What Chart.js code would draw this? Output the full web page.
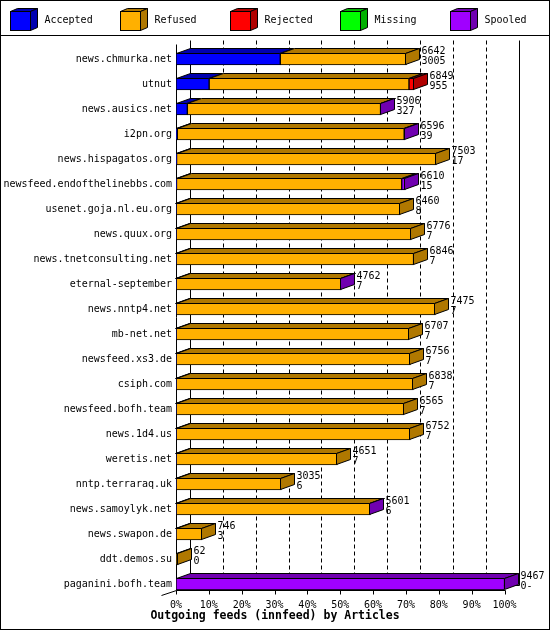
<!DOCTYPE html>
<html>
<head>
<meta charset="utf-8">
<script src="https://cdn.jsdelivr.net/npm/chart.js@4"></script>
<style>
  html, body { margin: 0; padding: 0; background: #fff; }
  canvas { display: block; }
</style>
</head>
<body>
<canvas id="feeds" width="550" height="630"></canvas>
<script>
// innfeed outgoing feeds, articles per peer
const hosts = [
  'news.chmurka.net', 'utnut', 'news.ausics.net', 'i2pn.org', 'news.hispagatos.org',
  'newsfeed.endofthelinebbs.com', 'usenet.goja.nl.eu.org', 'news.quux.org',
  'news.tnetconsulting.net', 'eternal-september', 'news.nntp4.net', 'mb-net.net',
  'newsfeed.xs3.de', 'csiph.com', 'newsfeed.bofh.team', 'news.1d4.us', 'weretis.net',
  'nntp.terraraq.uk', 'news.samoylyk.net', 'news.swapon.de', 'ddt.demos.su',
  'paganini.bofh.team'
];
const offered  = [6642, 6849, 5906, 6596, 7503, 6610, 6460, 6776, 6846, 4762, 7475,
                  6707, 6756, 6838, 6565, 6752, 4651, 3035, 5601, 746, 62, 9467];
const acceptedText = ['3005', '955', '327', '39', '17', '15', '8', '7', '7', '7', '7',
                      '7', '7', '7', '7', '7', '7', '6', '6', '3', '0', '0-'];
const accepted = [3005, 955, 327, 39, 17, 15, 8, 7, 7, 7, 7, 7, 7, 7, 7, 7, 7, 6, 6, 3, 0, 0];
const refused  = [3637, 5759, 5567, 6537, 7486, 6490, 6452, 6769, 6839, 4739, 7468,
                  6700, 6749, 6831, 6558, 6745, 4644, 3029, 5585, 743, 62, 0];
const rejected = [0, 135, 0, 0, 0, 0, 0, 0, 0, 0, 0, 0, 0, 0, 0, 0, 0, 0, 0, 0, 0, 0];
const missing  = [0, 0, 0, 0, 0, 0, 0, 0, 0, 0, 0, 0, 0, 0, 0, 0, 0, 0, 0, 0, 0, 0];
const spooled  = [0, 0, 12, 20, 0, 105, 0, 0, 0, 16, 0, 0, 0, 0, 0, 0, 0, 0, 10, 0, 0, 9467];
const tickPercents = [0, 10, 20, 30, 40, 50, 60, 70, 80, 90, 100];
const MAX_ARTICLES = 9467;

const seriesNames = ['Accepted', 'Refused', 'Rejected', 'Missing', 'Spooled'];
const seriesData = [accepted, refused, rejected, missing, spooled];
const frontColors = ['#0000ff', '#ffb000', '#ff0000', '#00ff00', '#a000ff'];
const darkColors  = ['#0000b0', '#b07800', '#b00000', '#00b000', '#7000b0'];

const DX = 14, DY = 5;
const FONT = '"DejaVu Sans Mono", monospace';

function poly(ctx, pts, fill) {
  ctx.beginPath();
  ctx.moveTo(pts[0][0], pts[0][1]);
  for (let i = 1; i < pts.length; i++) ctx.lineTo(pts[i][0], pts[i][1]);
  ctx.closePath();
  ctx.fillStyle = fill;
  ctx.fill();
  ctx.stroke();
}

function line(ctx, x1, y1, x2, y2) {
  ctx.beginPath();
  ctx.moveTo(x1, y1);
  ctx.lineTo(x2, y2);
  ctx.stroke();
}

const bars3d = {
  id: 'bars3d',
  beforeDraw(chart) {
    const ctx = chart.ctx;
    ctx.save();
    ctx.fillStyle = '#fff';
    ctx.fillRect(0, 0, chart.width, chart.height);
    ctx.restore();
  },
  beforeDatasetsDraw(chart) {
    const ctx = chart.ctx;
    const xs = chart.scales.x, ys = chart.scales.y;
    const left = Math.round(xs.getPixelForValue(0)) + 0.5;
    const right = Math.round(xs.getPixelForValue(MAX_ARTICLES)) + 0.5;
    const axisY = Math.round(ys.getPixelForValue(hosts.length - 1) + 6) + 0.5;
    const backTop = Math.round(chart.chartArea.top - 6.5) + 0.5;
    ctx.save();
    ctx.strokeStyle = '#000';
    ctx.lineWidth = 1;
    // dashed grid on the back wall
    ctx.setLineDash([4, 3]);
    for (let i = 1; i < tickPercents.length - 1; i++) {
      const x = Math.round(xs.getPixelForValue(MAX_ARTICLES * tickPercents[i] / 100)) + DX + 0.5;
      line(ctx, x, backTop, x, axisY - DY);
    }
    ctx.setLineDash([]);
    // back wall edges
    line(ctx, left + DX, backTop, left + DX, axisY - DY);
    line(ctx, right + DX, backTop, right + DX, axisY - DY);
    line(ctx, left + DX, axisY - DY, right + DX, axisY - DY);
    // front axes
    line(ctx, left, backTop + 4, left, axisY);
    line(ctx, left, axisY, right, axisY);
    line(ctx, left - DX - 1, axisY + DY, left, axisY);
    for (const p of tickPercents) {
      const x = Math.round(xs.getPixelForValue(MAX_ARTICLES * p / 100)) + 0.5;
      line(ctx, x, axisY, x, axisY + 4);
    }
    ctx.restore();
  },
  afterDatasetsDraw(chart) {
    const ctx = chart.ctx;
    ctx.save();
    ctx.strokeStyle = '#000';
    ctx.lineWidth = 1;
    ctx.lineJoin = 'miter';
    hosts.forEach((h, idx) => {
      let lastSeg = null;
      let top = 0, bottom = 0, cy = 0;
      seriesData.forEach((arr, si) => {
        const el = chart.getDatasetMeta(si).data[idx];
        cy = el.y;
        top = Math.round(el.y - el.height / 2) + 0.5;
        bottom = Math.round(el.y + el.height / 2) - 0.5;
        if (!arr[idx]) return;
        const x0 = Math.round(Math.min(el.x, el.base)) + 0.5;
        const x1 = Math.round(Math.max(el.x, el.base)) - 0.5;
        poly(ctx, [[x0, top], [x1, top], [x1 + DX, top - DY], [x0 + DX, top - DY]], darkColors[si]);
        lastSeg = { x1, si };
      });
      if (lastSeg) {
        const x1 = lastSeg.x1;
        poly(ctx, [[x1, top], [x1 + DX, top - DY], [x1 + DX, bottom - DY], [x1, bottom]], darkColors[lastSeg.si]);
        ctx.fillStyle = '#000';
        ctx.font = '10px ' + FONT;
        ctx.textAlign = 'left';
        ctx.textBaseline = 'middle';
        ctx.fillText(String(offered[idx]), x1 + DX + 2, cy - 8);
        ctx.fillText(acceptedText[idx], x1 + DX + 2, cy + 2.5);
      }
    });
    ctx.restore();
  },
  afterDraw(chart) {
    const ctx = chart.ctx;
    ctx.save();
    ctx.strokeStyle = '#000';
    ctx.lineWidth = 1;
    // legend with little cubes
    seriesNames.forEach((name, i) => {
      const bx = 10.5 + 110 * i, by = 11.5, w = 20, hgt = 19;
      poly(ctx, [[bx, by], [bx + w, by], [bx + w + 7, by - 3], [bx + 7, by - 3]], darkColors[i]);
      poly(ctx, [[bx + w, by], [bx + w + 7, by - 3], [bx + w + 7, by + hgt - 3], [bx + w, by + hgt]], darkColors[i]);
      ctx.fillStyle = frontColors[i];
      ctx.fillRect(bx, by, w, hgt);
      ctx.strokeRect(bx, by, w, hgt);
      ctx.fillStyle = '#000';
      ctx.font = '10px ' + FONT;
      ctx.textAlign = 'left';
      ctx.textBaseline = 'middle';
      ctx.fillText(name, bx + 34, 20.5);
    });
    line(ctx, 0, 35.5, chart.width, 35.5);
    // title under the axis
    ctx.fillStyle = '#000';
    ctx.font = 'bold 11.5px ' + FONT;
    ctx.textAlign = 'center';
    ctx.textBaseline = 'middle';
    ctx.fillText('Outgoing feeds (innfeed) by Articles', 275, 616.5);
    ctx.strokeRect(0.5, 0.5, chart.width - 1, chart.height - 1);
    ctx.restore();
  }
};

new Chart(document.getElementById('feeds'), {
  type: 'bar',
  data: {
    labels: hosts,
    datasets: seriesNames.map((name, i) => ({
      label: name,
      data: seriesData[i],
      backgroundColor: frontColors[i],
      borderColor: '#000',
      borderWidth: 1,
      borderSkipped: false,
      barThickness: 12
    }))
  },
  options: {
    indexAxis: 'y',
    responsive: false,
    animation: false,
    devicePixelRatio: 1,
    layout: { padding: { top: 46.5, right: 45.5, bottom: 0, left: 0 } },
    plugins: {
      legend: { display: false },
      tooltip: { enabled: false },
      title: { display: false }
    },
    scales: {
      x: {
        stacked: true,
        min: 0,
        max: MAX_ARTICLES,
        afterBuildTicks: s => { s.ticks = tickPercents.map(p => ({ value: MAX_ARTICLES * p / 100 })); },
        afterFit: s => { s.height = 33.5; },
        grid: { display: false, drawTicks: false },
        border: { display: false },
        ticks: {
          callback: (v, i) => tickPercents[i] + '%',
          autoSkip: false,
          maxRotation: 0,
          padding: 3,
          color: '#000',
          font: { family: FONT, size: 10 }
        }
      },
      y: {
        stacked: true,
        afterFit: s => { s.width = 176; },
        grid: { display: false, drawTicks: false },
        border: { display: false },
        ticks: {
          autoSkip: false,
          padding: 4,
          color: '#000',
          font: { family: FONT, size: 10 }
        }
      }
    }
  },
  plugins: [bars3d]
});
</script>
</body>
</html>
